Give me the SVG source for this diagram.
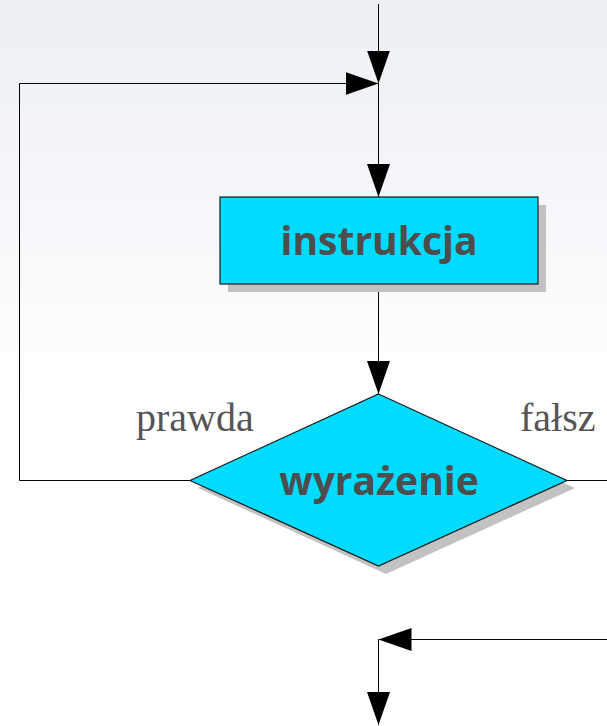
<svg xmlns="http://www.w3.org/2000/svg" width="607" height="726" viewBox="0 0 607 726">
  <defs>
    <linearGradient id="bg" x1="0" y1="0" x2="0" y2="1">
      <stop offset="0" stop-color="#eceff4"/>
      <stop offset="0.35" stop-color="#f8f9fb"/>
      <stop offset="0.55" stop-color="#ffffff"/>
      <stop offset="1" stop-color="#ffffff"/>
    </linearGradient>
    <marker id="arrow" markerUnits="userSpaceOnUse" markerWidth="34" markerHeight="24" refX="33" refY="11.5" orient="auto">
      <path d="M0,0 L33,11.5 L0,23 z" fill="#000"/>
    </marker>
    <style>
      .conn { fill: none; stroke: #000; stroke-width: 1; }
      .shadow { fill: #c2c2c2; }
      .shape { fill: #00dbff; stroke: #1a1a1a; stroke-width: 1.2; }
      .label { font-family: "Open Sans", "DejaVu Sans", sans-serif; font-weight: bold; font-size: 39px; fill: #4d4d4d; text-anchor: middle; }
      .branch { font-family: "Liberation Serif", "DejaVu Serif", serif; font-size: 40px; fill: #555555; }
    </style>
  </defs>

  <rect x="0" y="0" width="607" height="726" fill="url(#bg)"/>

  <g id="connectors">
    <path class="conn" d="M378.5,4 V83.5" marker-end="url(#arrow)"/>
    <path class="conn" d="M190,480.5 H19.5 V83.5 H378.5" marker-end="url(#arrow)"/>
    <path class="conn" d="M378.5,83.5 V197" marker-end="url(#arrow)"/>
    <path class="conn" d="M378.5,284 V394" marker-end="url(#arrow)"/>
    <path class="conn" d="M567,480.5 H607"/>
    <path class="conn" d="M607,639.5 H378.5" marker-end="url(#arrow)"/>
    <path class="conn" d="M378.5,639.5 V725" marker-end="url(#arrow)"/>
  </g>

  <g id="instrukcja">
    <rect class="shadow" x="228" y="205" width="318" height="87"/>
    <rect class="shape" x="220" y="197" width="318" height="87"/>
    <text class="label" x="379" y="255">instrukcja</text>
  </g>

  <g id="wyrazenie">
    <polygon class="shadow" points="386,402 575,488 386,574 198,488"/>
    <polygon class="shape" points="378.5,394 567,480.5 378.5,566 190,480.5"/>
    <text class="label" x="379" y="495">wyrażenie</text>
  </g>

  <g id="branch-labels">
    <text class="branch" x="136" y="431">prawda</text>
    <text class="branch" x="520" y="431">fałsz</text>
  </g>
</svg>
